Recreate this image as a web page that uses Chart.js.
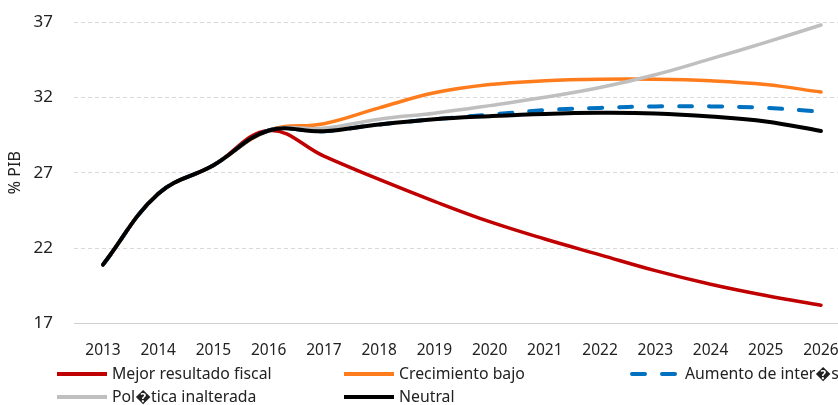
<!DOCTYPE html>
<html>
<head>
<meta charset="utf-8">
<script src="https://cdn.jsdelivr.net/npm/chart.js@4"></script>
<style>
	html, body { margin: 0; background: #fff; }
	#wrap { width: 838px; height: 405px; }
</style>
</head>
<body>
<div id="wrap"><canvas id="myChart"></canvas></div>
<script>
const years = [2013, 2014, 2015, 2016, 2017, 2018, 2019, 2020, 2021, 2022, 2023, 2024, 2025, 2026];
const mejorResultado = [20.9, 25.6, 27.5, 29.8, 28.1, 26.55, 25.1, 23.75, 22.6, 21.55, 20.5, 19.6, 18.85, 18.2];
const crecimientoBajo = [20.9, 25.6, 27.5, 29.8, 30.25, 31.3, 32.3, 32.85, 33.1, 33.2, 33.2, 33.1, 32.85, 32.35];
const aumentoInteres = [20.9, 25.6, 27.5, 29.8, 29.75, 30.2, 30.55, 30.85, 31.15, 31.3, 31.4, 31.4, 31.3, 31.05];
const politicaInalterada = [20.9, 25.6, 27.5, 29.8, 29.95, 30.55, 30.95, 31.45, 32.0, 32.65, 33.5, 34.55, 35.65, 36.8];
const neutral = [20.9, 25.6, 27.5, 29.8, 29.75, 30.2, 30.55, 30.75, 30.9, 30.97, 30.93, 30.73, 30.4, 29.77];
const yTicks = [17, 22, 27, 32, 37];

const labels = ['Mejor resultado fiscal', 'Crecimiento bajo', 'Aumento de inter\uFFFDs', 'Pol\uFFFDtica inalterada', 'Neutral'];

function pts(arr) {
	return arr.map((v, i) => ({ x: years[i], y: v }));
}

const fontFam = '"Noto Sans", "Open Sans", sans-serif';

// legend is drawn by hand: 3 columns, left aligned
const legendSpots = [[57, 374], [344, 374], [630, 374], [57, 397], [344, 397]];
const bottomLegend = {
	id: 'bottomLegend',
	afterDraw(chart) {
		const ctx = chart.ctx;
		chart.data.datasets.forEach((ds, i) => {
			const [x, y] = legendSpots[i];
			ctx.save();
			ctx.strokeStyle = ds.borderColor;
			ctx.lineWidth = 4;
			if (ds.borderDash) {
				ctx.setLineDash([13, 17]);
				ctx.lineCap = 'round';
				ctx.beginPath(); ctx.moveTo(x + 2, y); ctx.lineTo(x + 50, y); ctx.stroke();
			} else {
				ctx.beginPath(); ctx.moveTo(x, y); ctx.lineTo(x + 50, y); ctx.stroke();
			}
			ctx.setLineDash([]);
			ctx.fillStyle = '#222';
			ctx.font = '15.8px ' + fontFam;
			ctx.textBaseline = 'middle';
			ctx.fillText(ds.label, x + 55, y);
			ctx.restore();
		});
	}
};

const lineBase = { borderWidth: 3.5, pointRadius: 0, tension: 0.4, fill: false, borderCapStyle: 'round' };

const ctx = document.getElementById('myChart').getContext('2d');
// order: lower is drawn on top, black goes over everything
const myChart = new Chart(ctx, {
	type: 'line',
	data: {
		datasets: [
			{ ...lineBase, label: labels[0], data: pts(mejorResultado), borderColor: '#C00000', order: 5 },
			{ ...lineBase, label: labels[1], data: pts(crecimientoBajo), borderColor: '#FF7C1C', order: 4 },
			{ ...lineBase, label: labels[2], data: pts(aumentoInteres), borderColor: '#0070C0', borderWidth: 4, borderDash: [13, 17], order: 3 },
			{ ...lineBase, label: labels[3], data: pts(politicaInalterada), borderColor: '#BFBFBF', order: 2 },
			{ ...lineBase, label: labels[4], data: pts(neutral), borderColor: '#000000', borderWidth: 4, order: 1 },
		]
	},
	options: {
		responsive: true,
		maintainAspectRatio: false,
		animation: false,
		layout: { padding: { top: 22, left: 0, right: 0, bottom: 27 } },
		plugins: {
			legend: { display: false },
			tooltip: { enabled: false },
		},
		scales: {
			x: {
				type: 'linear',
				min: 2012.475,
				max: 2026.308,
				afterBuildTicks: scale => { scale.ticks = years.map(v => ({ value: v })); },
				afterFit: scale => { scale.paddingLeft = 0; scale.paddingRight = 0; },
				grid: { display: false, drawTicks: false },
				border: { display: true, color: '#D0D0D0', width: 1 },
				ticks: {
					padding: 18,
					color: '#222',
					font: { size: 15.5, family: fontFam },
					autoSkip: false,
					maxRotation: 0,
					callback: v => String(v),
				}
			},
			y: {
				min: 17,
				max: 37,
				afterBuildTicks: scale => { scale.ticks = yTicks.map(v => ({ value: v })); },
				afterFit: scale => { scale.width = 74; scale.paddingTop = 0; scale.paddingBottom = 0; },
				title: {
					display: true,
					text: '% PIB',
					color: '#222',
					font: { size: 16, family: fontFam },
					padding: { top: 6, bottom: 0 },
				},
				grid: {
					color: c => c.tick && c.tick.value === 17 ? '#D0D0D0' : '#D9D9D9',
					drawTicks: false,
				},
				border: {
					display: false,
					dash: c => c.tick && c.tick.value === 17 ? [] : [4, 3],
				},
				ticks: {
					padding: 21,
					color: '#222',
					font: { size: 17, family: fontFam },
				}
			}
		}
	},
	plugins: [bottomLegend]
});
</script>
</body>
</html>
